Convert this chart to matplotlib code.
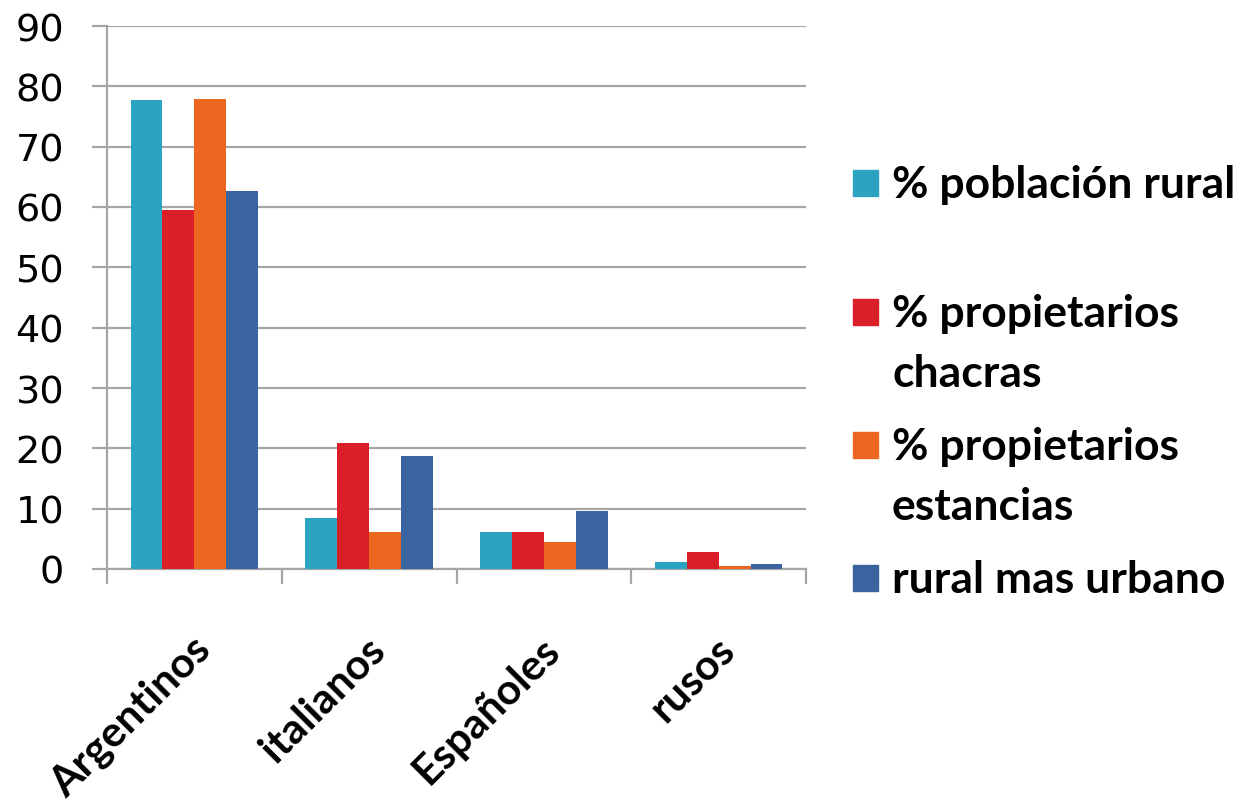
import numpy as np
import matplotlib.pyplot as plt
import matplotlib.transforms as mtransforms
from matplotlib.patches import Rectangle

# Data
categories = ['Argentinos', 'italianos', 'Españoles', 'rusos']
poblacion_rural = [77.7, 8.5, 6.2, 1.1]
prop_chacras = [59.5, 20.9, 6.2, 2.9]
prop_estancias = [77.9, 6.2, 4.5, 0.5]
rural_urbano = [62.6, 18.8, 9.6, 0.9]

series = [poblacion_rural, prop_chacras, prop_estancias, rural_urbano]
labels = [['% población rural'], ['% propietarios', 'chacras'],
          ['% propietarios', 'estancias'], ['rural mas urbano']]
colors = ['#2CA3C0', '#DA1F28', '#EB661F', '#3A64A0']
grid_color = '#A6A6A6'

W, H = 1244, 804
fig = plt.figure(figsize=(W / 100, H / 100), dpi=100)
ax = fig.add_axes([107 / W, 1 - 570 / H, (806 - 107) / W, (570 - 27) / H])

x = np.arange(len(categories))
width = 0.1825
for i, (vals, c) in enumerate(zip(series, colors)):
    ax.bar(x + (i - 1.5) * width, vals, width, color=c, edgecolor='none', zorder=3)

ax.set_xlim(-0.5, len(categories) - 0.5)
ax.set_ylim(0, 90)
ax.set_yticks(range(0, 91, 10))
ax.yaxis.grid(True, color=grid_color, linewidth=1.6, zorder=0)
ax.set_axisbelow(True)

for s in ['top', 'right']:
    ax.spines[s].set_visible(False)
for s in ['left', 'bottom']:
    ax.spines[s].set_color(grid_color)
    ax.spines[s].set_linewidth(1.6)

ax.tick_params(axis='y', length=11, width=1.6, color=grid_color, labelsize=27.5, pad=20)
ax.set_xticks(np.arange(len(categories) + 1) - 0.5, minor=True)
ax.set_xticks(x)
ax.tick_params(axis='x', which='minor', length=11, width=1.6, color=grid_color)
ax.tick_params(axis='x', which='major', length=0, pad=53)
ax.set_xticklabels(categories, rotation=45, ha='right', va='center', rotation_mode='anchor',
                   fontsize=30.5, fontweight='bold', family='Lato')
shift = mtransforms.ScaledTranslation(10 / 100, 0, fig.dpi_scale_trans)
for lbl in ax.get_xticklabels():
    lbl.set_transform(lbl.get_transform() + shift)

# Legend drawn by hand to match the Excel spacing
baselines = [198, 327, 460, 593]
for lines, c, yb in zip(labels, colors, baselines):
    fig.patches.append(Rectangle((853 / W, 1 - (yb - 1) / H), 25 / W, 26 / H,
                                 transform=fig.transFigure, color=c))
    for k, line in enumerate(lines):
        fig.text(892 / W, 1 - (yb + 60 * k) / H, line, fontsize=32, fontweight='bold',
                 family='Lato', va='baseline', ha='left')

fig.savefig('out.png', dpi=100)
